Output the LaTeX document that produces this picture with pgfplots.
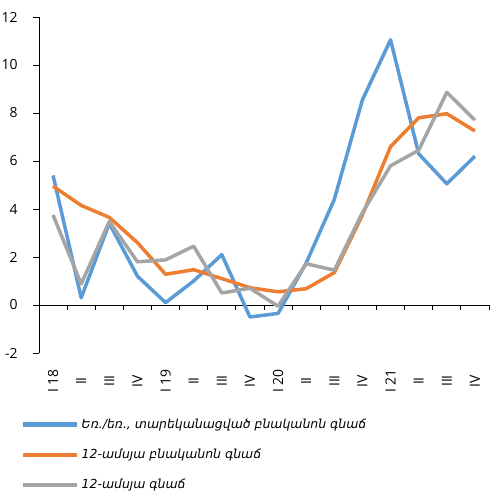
\documentclass[border=0pt]{standalone}
\usepackage{fontspec}
\setmainfont{Open Sans}
\newfontfamily\armfont{DejaVu Sans}
\usepackage{pgfplots}
\pgfplotsset{compat=1.18}

\definecolor{cblue}{HTML}{5B9BD5}
\definecolor{corange}{HTML}{ED7D31}
\definecolor{cgrey}{HTML}{A5A5A5}

\pgfplotstableread{
q  blue   orange  grey
0  5.40   4.95    3.75
1  0.30   4.15    0.88
2  3.40   3.65    3.48
3  1.20   2.60    1.80
4  0.10   1.28    1.88
5  1.00   1.47    2.45
6  2.10   1.10    0.50
7  -0.50  0.72    0.70
8  -0.35  0.55    -0.05
9  1.75   0.68    1.72
10 4.40   1.35    1.45
11 8.55   3.75    3.85
12 11.05  6.60    5.80
13 6.30   7.80    6.45
14 5.05   7.97    8.86
15 6.20   7.25    7.70
}\datatable

\begin{document}
\begin{tikzpicture}
\begin{axis}[
  scale only axis,
  width=450bp, height=336bp,
  xmin=-0.5, xmax=15.5,
  ymin=-2, ymax=12,
  axis y line*=left,
  axis x line*=bottom,
  x axis line style={draw=none},
  ytick={-2,0,...,12},
  xtick={0,...,15},
  xticklabels={{I 18},II,III,IV,{I 19},II,III,IV,{I 20},II,III,IV,{I 21},II,III,IV},
  xticklabel style={rotate=90, anchor=center},
  xticklabel shift=22bp,
  yticklabel style={xshift=-12bp},
  major x tick style={draw=none},
  tick align=outside,
  major tick length=6bp,
  ytick style={black, line width=0.8bp},
  y axis line style={line width=0.8bp},
  tick label style={font=\fontsize{14}{16}\selectfont},
  /pgf/number format/assume math mode=true,
  clip=false,
  legend cell align=left,
  legend style={at={(rel axis cs:0,0)}, anchor=north west,
    xshift=-18bp, yshift=-64bp, draw=none, fill=none,
    row sep=15bp, inner sep=0pt,
    font=\armfont\itshape\fontsize{12.5}{14}\selectfont,
    nodes={inner sep=2bp}},
  legend image code/.code={\draw[#1, line width=4.5bp] (0bp,0bp) -- (54bp,0bp);},
  every axis plot/.append style={line width=3.5bp, line join=round},
]
\draw[black, line width=0.8bp] (axis cs:-0.5,0) -- (axis cs:15.5,0);
\pgfplotsinvokeforeach{0.5,1.5,...,15.5}{
  \draw[black, line width=0.8bp] (axis cs:#1,0) -- ++(0pt,-5bp);
}
\addplot[cblue] table[x=q, y=blue] {\datatable};
\addlegendentry{Եռ./եռ., տարեկանացված բնականոն գնաճ}
\addplot[corange] table[x=q, y=orange] {\datatable};
\addlegendentry{12-ամսյա բնականոն գնաճ}
\addplot[cgrey] table[x=q, y=grey] {\datatable};
\addlegendentry{12-ամսյա գնաճ}
\end{axis}
\pgfresetboundingbox
\path (-39bp,-147bp) rectangle (460bp,353bp);
\end{tikzpicture}
\end{document}
